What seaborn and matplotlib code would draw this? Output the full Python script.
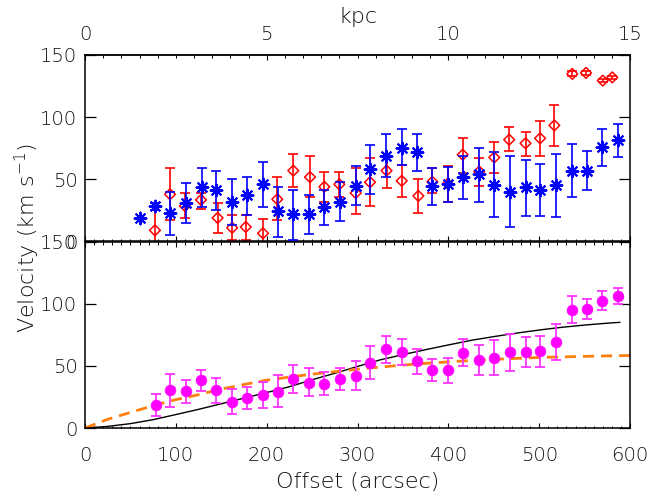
import numpy as np
import pandas as pd
import matplotlib
matplotlib.use("Agg")
import matplotlib.pyplot as plt
import seaborn as sns
from matplotlib.ticker import MultipleLocator, FixedLocator

# ---------------- data ----------------
blue_x = [60.5, 77, 93.6, 111, 128.5, 144, 161.5, 178.7, 195.6, 212.8, 229.3, 247,
          263.5, 280.7, 298, 313.8, 331, 348.7, 365, 382.4, 399.3, 416, 434, 450.6,
          468, 485, 501, 518.6, 535.8, 552.3, 569.6, 586.5]
blue_v = [18.5, 28.6, 22.7, 31.3, 43.7, 41.5, 31.6, 37, 46, 24.7, 22, 22,
          28, 32, 44.7, 58.2, 69, 75, 72, 45, 46, 51.8, 54, 45.5,
          40, 43.7, 41.5, 45.5, 57, 57, 76, 81.3]
blue_lo = [18.5, 25, 5, 15, 28, 25, 13, 21, 28, 4, 1, 6,
           13, 16.5, 29, 38, 52, 61.7, 57, 29.4, 32, 34, 32, 20,
           12, 20.8, 20.6, 20, 35.6, 41.5, 61, 67.6]
blue_hi = [18.5, 31, 40, 47, 59, 57, 50, 52, 64, 44, 41.5, 37.5,
           41.5, 48, 61, 78, 86.5, 90.5, 86.5, 59.5, 60, 68.4, 75, 71.6,
           69, 65.7, 62, 70, 78.6, 72.4, 90.7, 94.8]

red_x = [77, 93.6, 110, 127.7, 146, 162, 177, 196, 211.7, 229.3, 247.7, 263.5,
         280, 298, 313.8, 332, 348.7, 367, 382.4, 399.3, 415.8, 434, 450.6, 467,
         485, 501, 516.7, 536.5, 551.6, 570, 580.5]
red_v = [9, 38, 28.6, 33.5, 19, 11, 11.7, 6.6, 34, 57, 51.8, 44,
         46, 39, 47.7, 57, 48.8, 36.7, 48, 46.4, 69.8, 56.3, 67.6, 81.9,
         79, 83, 93.4, 134.8, 135.6, 129.4, 132]
red_lo = [-7, 17, 18.7, 26, 7, 1, 1.5, -5, 17, 44, 36, 32,
          36, 22, 28.6, 43, 35.6, 22.7, 39, 32, 55, 44.7, 55, 72.4,
          69, 69, 77, 133, 134, 128, 130.5]
red_hi = [25, 59, 38.9, 39, 31, 21, 21.5, 18, 52, 70, 68.4, 56,
          56, 59, 67, 69, 61.7, 50, 59, 61, 83, 67, 79.7, 92,
          88, 97, 109.5, 137, 137.5, 131, 133.5]

mag_x = [77.8, 93.6, 111, 127.7, 143.9, 161.5, 178.7, 195.6, 212.8, 229.3, 247,
         263.5, 280.7, 298, 313.8, 331, 348.7, 365, 382.4, 399.3, 415.8, 434,
         450.6, 468, 485, 501, 518.6, 535.8, 552.3, 569.6, 586.5]
mag_v = [18.6, 30.4, 29.8, 38.4, 30.4, 21.3, 24.5, 26.6, 29.3, 39.2, 36.5,
         35.7, 39.2, 41.9, 52.5, 63.2, 61.4, 53.8, 46.4, 46.4, 60, 54.7,
         56.5, 61, 61, 61.9, 69, 95.2, 95.7, 102.4, 105.8]
mag_lo = [10, 17, 20.5, 30, 20.5, 11, 15, 15.7, 16.5, 27.8, 25.8,
          26.6, 30.4, 30.4, 39.2, 52, 51, 43.7, 37.4, 36, 50, 42.4,
          42.4, 45.8, 49, 49.3, 54.4, 84.6, 88, 94.6, 100]
mag_hi = [27, 43.7, 39, 46.7, 40.5, 31.7, 33.3, 37, 42.4, 50.6, 48.5,
          45.4, 48.5, 53.8, 65.8, 74, 71.7, 63.7, 55.2, 56, 71.2, 66.4,
          70.7, 76, 73, 73.9, 83.8, 105.9, 103.8, 110, 113]

model_x = [0, 25, 50, 75, 100, 125, 150, 175, 200, 225, 250, 275, 300, 325,
           350, 375, 400, 425, 450, 475, 500, 525, 550, 575, 589]
model_v = [0, 1.3, 3.5, 6.7, 10.8, 15, 19.5, 24, 28.5, 33.2, 38.8, 44, 49.5, 54.8,
           59, 63, 66.8, 70.5, 73.5, 76.3, 78.8, 81, 82.8, 84.3, 85]

fit_x = [0, 25, 50, 75, 100, 125, 150, 175, 200, 225, 250, 275, 300, 325, 350,
         375, 400, 425, 450, 475, 500, 525, 550, 575, 600]
fit_v = [0, 7, 12.5, 18, 22.8, 26.8, 31.3, 35, 38.5, 41, 43.3, 45.3, 47.3, 49,
         50.6, 52, 53.2, 54.3, 55.2, 56, 56.7, 57.2, 57.6, 58, 58.3]

x_ticks = [0, 100, 200, 300, 400, 500, 600]
kpc_ticks = [0, 5, 10, 15]
y_ticks = [0, 50, 100, 150]
ARCSEC_PER_KPC = 40.0

# ---------------- style ----------------
sns.set_style("ticks")
plt.rcParams["font.family"] = ["DejaVu Sans"]
plt.rcParams["font.weight"] = "light"
plt.rcParams["font.size"] = 14
TXT = "#111111"
plt.rcParams["text.color"] = TXT
plt.rcParams["xtick.color"] = "black"
plt.rcParams["ytick.color"] = "black"
plt.rcParams["xtick.labelcolor"] = TXT
plt.rcParams["ytick.labelcolor"] = TXT

W, H = 667, 495
fig = plt.figure(figsize=(W / 100, H / 100), dpi=100)
L = 85 / W
AW = (630 - 85) / W
ax1 = fig.add_axes([L, 1 - 241.5 / H, AW, (241.5 - 55) / H])
ax2 = fig.add_axes([L, 1 - 428 / H, AW, (428 - 241.5) / H])


def style_axes(ax, bottom_labels):
    ax.set_xlim(0, 600)
    ax.set_ylim(0, 150)
    ax.xaxis.set_major_locator(FixedLocator(x_ticks))
    ax.xaxis.set_minor_locator(MultipleLocator(10))
    ax.yaxis.set_major_locator(FixedLocator(y_ticks))
    for s in ax.spines.values():
        s.set_color("black")
        s.set_linewidth(1.1)
    ax.tick_params(axis="x", which="major", direction="in", length=3.6, width=0.8,
                   labelsize=14, pad=13)
    ax.tick_params(axis="x", which="minor", direction="in", length=1.8, width=0.7)
    ax.tick_params(axis="y", which="major", direction="in", length=7.8, width=0.9,
                   labelsize=14, pad=5.5, right=True)
    if not bottom_labels:
        ax.tick_params(axis="x", which="both", labelbottom=False)
    ax.set_xlabel("")
    ax.set_ylabel("")


# ---------------- top panel ----------------
blue_v_a = np.array(blue_v)
red_v_a = np.array(red_v)
ax1.errorbar(red_x, red_v, yerr=[red_v_a - np.array(red_lo), np.array(red_hi) - red_v_a],
             fmt="none", ecolor="#ff0000", elinewidth=1.2, capsize=3.5, capthick=1.2, zorder=2)
sns.scatterplot(x=red_x, y=red_v, ax=ax1, marker="D", s=30, facecolors="none",
                edgecolors="#ff0000", linewidth=1.1, zorder=3)
ax1.errorbar(blue_x, blue_v, yerr=[blue_v_a - np.array(blue_lo), np.array(blue_hi) - blue_v_a],
             fmt="none", ecolor="#0000ff", elinewidth=1.2, capsize=3.5, capthick=1.2, zorder=4)
sns.scatterplot(x=blue_x, y=blue_v, ax=ax1, marker=(8, 2, 0), s=70, color="#0000ff",
                linewidth=1.5, zorder=5)
style_axes(ax1, bottom_labels=False)
ax1.tick_params(axis="x", which="both", top=False)

sec = ax1.secondary_xaxis("top", functions=(lambda x: x / ARCSEC_PER_KPC,
                                            lambda k: k * ARCSEC_PER_KPC))
sec.xaxis.set_major_locator(FixedLocator(kpc_ticks))
sec.xaxis.set_minor_locator(MultipleLocator(0.5))
sec.tick_params(axis="x", which="major", direction="in", length=3.6, width=0.8,
                labelsize=14, pad=8)
sec.tick_params(axis="x", which="minor", direction="in", length=1.8, width=0.7)
sec.spines["top"].set_linewidth(1.1)

# ---------------- bottom panel ----------------
curves_model = pd.DataFrame({"x": model_x, "v": model_v})
curves_fit = pd.DataFrame({"x": fit_x, "v": fit_v})
sns.lineplot(data=curves_model, x="x", y="v", ax=ax2, color="black", linewidth=1.0,
             zorder=2, sort=False)
sns.lineplot(data=curves_fit, x="x", y="v", ax=ax2, color="#ff7f0e", linewidth=2.0,
             linestyle=(0, (4, 2.5)), zorder=2, sort=False, clip_on=False)
mag_v_a = np.array(mag_v)
ax2.errorbar(mag_x, mag_v, yerr=[mag_v_a - np.array(mag_lo), np.array(mag_hi) - mag_v_a],
             fmt="none", ecolor="#ff33ff", elinewidth=1.3, capsize=3.5, capthick=1.3, zorder=3)
sns.scatterplot(x=mag_x, y=mag_v, ax=ax2, marker="o", s=60, color="#ff00ff",
                edgecolor="#ff00ff", linewidth=0.5, zorder=4)
style_axes(ax2, bottom_labels=True)
ax2.tick_params(axis="x", which="both", top=True)

# ---------------- labels ----------------
fig.text(0.5365, 1 - 23.3 / H, "kpc", ha="center", va="baseline", fontsize=16)
fig.text(0.5365, 1 - 488 / H, "Offset (arcsec)", ha="center", va="baseline", fontsize=16)
fig.text(27 / W, 1 - 238 / H, "Velocity (km s$^{-1}$)", rotation=90,
         ha="center", va="center", fontsize=16)

fig.savefig("out.png", dpi=100)
